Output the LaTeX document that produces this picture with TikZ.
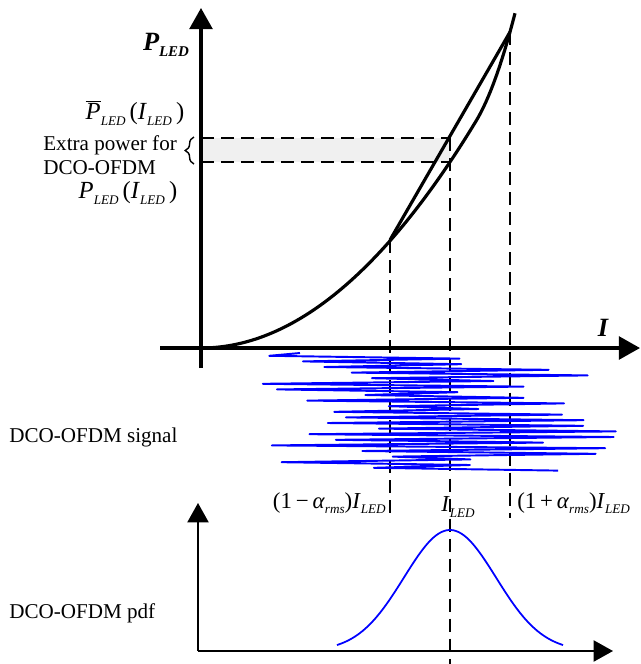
\documentclass[tikz,border=0pt]{standalone}
\usepackage{fontspec}
\setmainfont{Liberation Serif}
\usetikzlibrary{arrows.meta,decorations.pathreplacing}
\colorlet{sig}{blue}
\colorlet{band}{black!6}
\tikzset{
  axis/.style={line width=1.8pt,-{Triangle[length=12pt,width=13pt]}},
  paxis/.style={line width=1pt,-{Triangle[length=11pt,width=12pt]}},
  curve/.style={line width=1.8pt},
  guide/.style={line width=.9pt,dash pattern=on 7.4pt off 4pt},
  sigline/.style={draw=sig,line width=1.1pt,line join=round},
  lbl/.style={font=\fontsize{12}{13.6}\selectfont,inner sep=0pt},
  mlbl/.style={font=\fontsize{14}{16}\selectfont,inner sep=0pt},
  slbl/.style={font=\fontsize{13}{15}\selectfont,inner sep=0pt},
  blbl/.style={font=\fontsize{15}{17}\selectfont\bfseries\itshape,inner sep=0pt}
}
\newcommand{\lsub}[1]{\raisebox{-.5ex}{\fontsize{7.5}{8}\selectfont\itshape #1}}
\newcommand{\bsub}[1]{\raisebox{-.5ex}{\fontsize{8.5}{9}\selectfont\itshape #1}}

\begin{document}
\begin{tikzpicture}[x=0.02cm,y=-0.02cm]
  \useasboundingbox (0,0) rectangle (641,664);
  % power curve
  \coordinate (ytop) at (201,8); \coordinate (ybot) at (201,368);
  \coordinate (xl) at (160,348); \coordinate (xr) at (640,348);
  \coordinate (c1) at (390,240); \coordinate (c2) at (510,32);
  \coordinate (m1) at (450,138); \coordinate (m0) at (450,162);
  \coordinate (a1) at (201,138); \coordinate (a0) at (201,162);
  \coordinate (g1) at (390,518); \coordinate (g2) at (450,664); \coordinate (g3) at (510,518);
  \fill[band] (a1) rectangle (m0);
  \draw[guide] (a1) -- (m1); \draw[guide] (a0) -- (m0);
  \draw[guide] (c1) -- (g1); \draw[guide] (m1) -- (g2); \draw[guide] (c2) -- (g3);
  \draw[axis] (ybot) -- (ytop);
  \draw[axis] (xl) -- (xr);
  \draw[curve] plot[domain=201:515,samples=120] (\x,{348-30*((\x-201)/100)^2-2.56*(max(0,\x-476)/10)^2});
  \draw[curve] (c1) -- (c2);
  \draw[line width=.8pt,decorate,decoration={brace,amplitude=5pt}] (194,164) -- (194,137);
  \node[blbl] (ylab) at (166,45) {P\bsub{LED}};
  \node[blbl] (xlab) at (603,328) {I};
  \node[mlbl] (pbar) at (135,113) {$\overline{\hbox{\itshape P}}$\lsub{LED}\,(\textit{I}\lsub{LED}\,)};
  \node[lbl,align=left,anchor=west] (extra) at (43,155) {Extra power for\\DCO-OFDM};
  \node[mlbl] (plab) at (128,193) {\textit{P}\lsub{LED}\,(\textit{I}\lsub{LED}\,)};
  % signal
  \pgfmathsetseed{5}
  \draw[sigline] (300,353) \foreach \k in {1,...,42}{ -- ({436+cos(180*\k)*(15+165*rnd)},{353+\k*2.8}) };
  \node[lbl,anchor=west] (sig) at (9,437) {DCO-OFDM signal};
  \node[slbl,anchor=east] (lo) at (386,503) {(1\,−\,\textit{α}\lsub{rms})\textit{I}\lsub{LED}};
  \node[slbl] (mid) at (458,507) {\textit{I}\lsub{LED}};
  \node[slbl,anchor=west] (hi) at (517,503) {(1\,+\,\textit{α}\lsub{rms})\textit{I}\lsub{LED}};
  % pdf
  \coordinate (po) at (198,651); \coordinate (pt) at (198,503); \coordinate (pr) at (613,651);
  \draw[paxis] (po) -- (pt);
  \draw[paxis] (po) -- (pr);
  \draw[sig,line width=1pt] plot[domain=337:563,samples=90] (\x,{651-121*exp(-0.5*((\x-450)/46.1)^2)});
  \node[lbl,anchor=west] (pdf) at (9,613) {DCO-OFDM pdf};
\end{tikzpicture}
\end{document}
